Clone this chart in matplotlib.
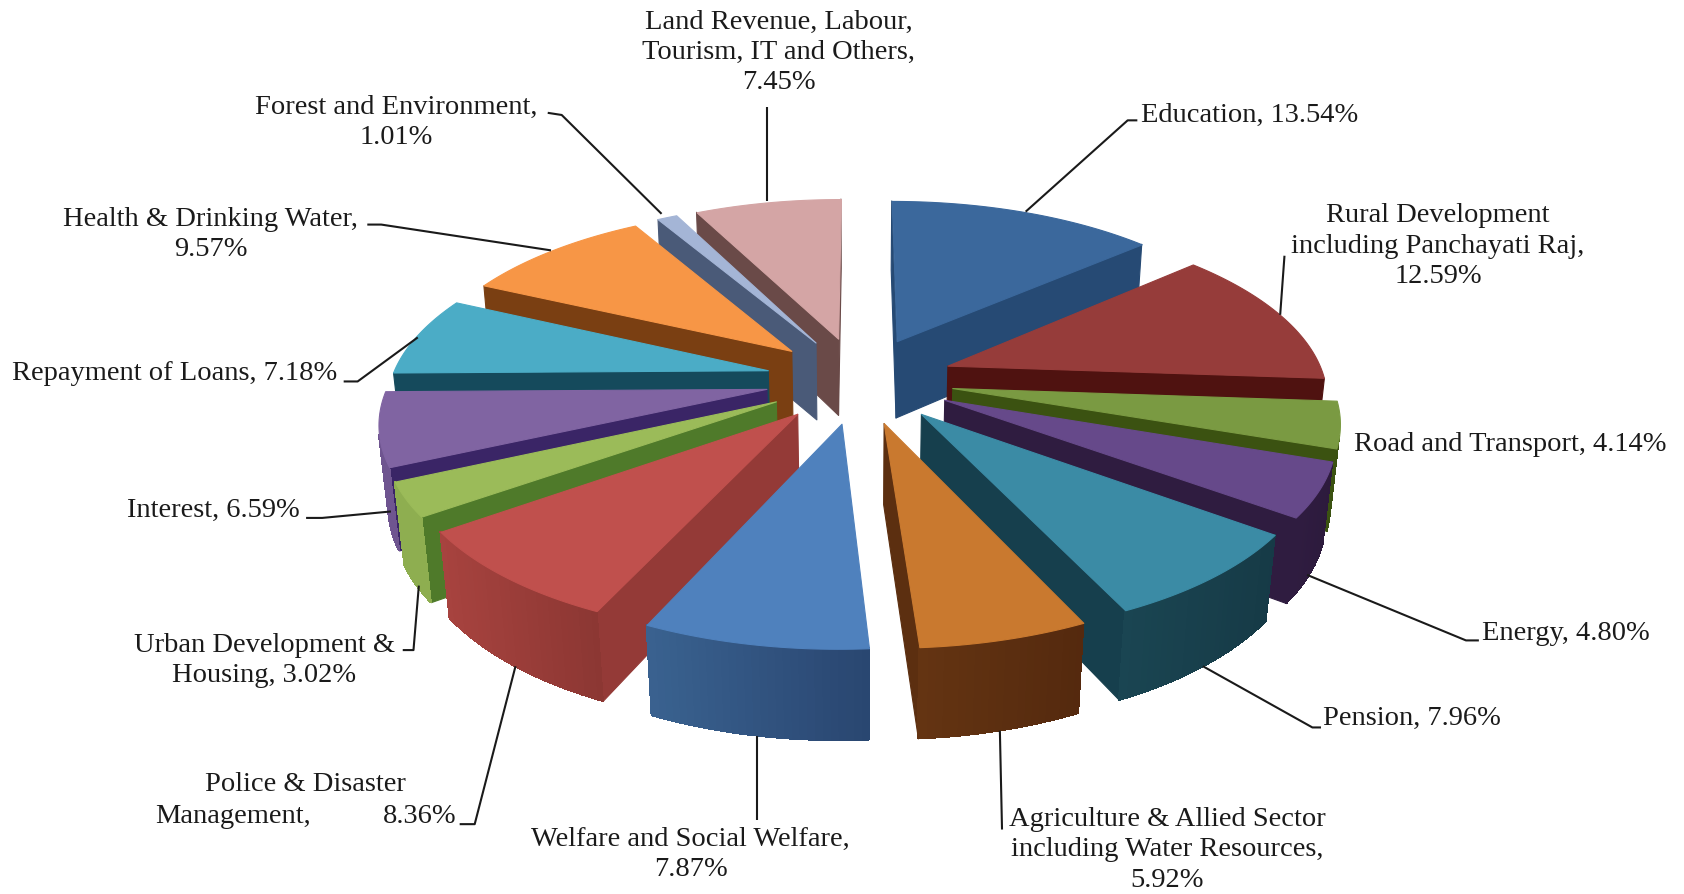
import numpy as np
import matplotlib
matplotlib.use("Agg")
import matplotlib.pyplot as plt
from matplotlib.collections import PolyCollection

plt.rcParams['font.family'] = ['Liberation Serif', 'DejaVu Serif']

# --- Budget shares (percent), clockwise from 12 o'clock ---
sectors = [
    "Education", "Rural Development", "Road and Transport", "Energy", "Pension",
    "Agriculture", "Welfare", "Police", "Urban", "Interest",
    "Repayment", "Health", "Forest", "Land Revenue",
]
shares = [13.54, 12.59, 4.14, 4.80, 7.96, 5.92, 7.87, 8.36, 3.02, 6.59, 7.18, 9.57, 1.01, 7.45]

# Colours: top face, radial wall, outer wall (near left end, near right end)
top_colors = ['#3b689c', '#963c3a', '#7a9a42', '#66498a', '#3b8ba5', '#c9792f', '#4f81bd',
              '#c0504d', '#9bbb59', '#8064a2', '#4bacc6', '#f79646', '#a4b5d6', '#d4a5a5']
side_colors = ['#264a74', '#4f1210', '#3b5211', '#2f1c40', '#163f4d', '#5c2f10', '#2d4d78',
               '#943a37', '#4f7a2a', '#3a2566', '#154a5c', '#7a3f12', '#4a5a78', '#6a4a48']
rim_left = ['#264a74', '#4f1210', '#3b5211', '#2f1c40', '#1a4552', '#643412', '#3a6290',
            '#a8433f', '#8eae50', '#6f5590', '#154a5c', '#7a3f12', '#4a5a78', '#6a4a48']
rim_right = ['#264a74', '#4f1210', '#3b5211', '#2c1a3c', '#163a46', '#54290e', '#294670',
             '#8c3733', '#8eae50', '#6f5590', '#154a5c', '#7a3f12', '#4a5a78', '#6a4a48']

# Labels: text, centre x, centre y
label_text = [
    "Education, 13.54%", "Rural Development\nincluding Panchayati Raj,\n12.59%",
    "Road and Transport, 4.14%", "Energy, 4.80%", "Pension, 7.96%",
    "Agriculture & Allied Sector\nincluding Water Resources,\n5.92%",
    "Welfare and Social Welfare,\n7.87%", "Police & Disaster", "Management,", "8.36%",
    "Urban Development &\nHousing, 3.02%", "Interest, 6.59%", "Repayment of Loans, 7.18%",
    "Health & Drinking Water,\n9.57%", "Forest and Environment,\n1.01%",
    "Land Revenue, Labour,\nTourism, IT and Others,\n7.45%",
]
label_x = [1164, 1339, 1406, 1458, 1315, 1087, 643, 284, 217, 391, 246, 199, 163, 196, 369, 725]
label_y = [107, 229, 414, 590, 669, 791, 795, 730, 760, 760, 615, 475, 348, 218, 114, 49]

# Leader lines as (x, y) runs
leaders = [
    [(955, 197), (1050, 112), (1059, 112)],
    [(1192, 293), (1196, 238)],
    [(1217, 535), (1365, 596), (1377, 596)],
    [(1120, 620), (1222, 677), (1230, 677)],
    [(931, 680), (933, 772)],
    [(705, 685), (705, 763)],
    [(480, 620), (442, 767), (428, 767)],
    [(390, 545), (385, 605), (375, 605)],
    [(364, 476), (300, 482), (285, 482)],
    [(389, 314), (333, 355), (320, 355)],
    [(513, 233), (355, 209), (342, 209)],
    [(616, 199), (523, 107), (510, 105)],
    [(714, 187), (714, 100)],
]

# --- Camera and pie geometry ---
CX, CY = 800, 353
DIST = 5.6
FOCAL = 351 * DIST
ELEV = np.radians(27.4)
HEIGHT = 0.24
EXPLODE = 0.25


def project(x, y, z):
    """Perspective projection of pie-space points to drawing coordinates."""
    depth = DIST + y * np.cos(ELEV) - z * np.sin(ELEV)
    up = y * np.sin(ELEV) + z * np.cos(ELEV)
    return CX + FOCAL * x / depth, CY - FOCAL * up / depth


def signed_area(pts):
    x, y = pts[:, 0], pts[:, 1]
    return 0.5 * np.sum(x * np.roll(y, -1) - np.roll(x, -1) * y)


def face(xs, ys, zs):
    return np.column_stack(project(np.asarray(xs), np.asarray(ys), np.asarray(zs)))


def blend(c1, c2, t):
    a = np.array(matplotlib.colors.to_rgb(c1))
    b = np.array(matplotlib.colors.to_rgb(c2))
    return tuple(a + (b - a) * t)


fig = plt.figure(figsize=(16.84, 8.94), dpi=100)
ax = fig.add_axes([0, 0, 1, 1])
ax.set_xlim(0, 1568)
ax.set_ylim(832, 0)
ax.axis('off')

edges = np.radians(np.concatenate([[0], np.cumsum(shares)]) * 3.6)
mids = (edges[:-1] + edges[1:]) / 2

# Far wedges first so nearer ones cover them
for i in np.argsort(-np.cos(mids)):
    a0, a1, mid = edges[i], edges[i + 1], mids[i]
    ox, oy = EXPLODE * np.sin(mid), EXPLODE * np.cos(mid)
    arc = np.linspace(a0, a1, max(4, int(np.degrees(a1 - a0)) + 2))
    rx, ry = ox + np.sin(arc), oy + np.cos(arc)
    rim_xs = face(rx, ry, 0 * rx)[:, 0]

    # Radial walls, kept only where they face the viewer
    polys, colors = [], []
    for ex, ey, sign in [(rx[0], ry[0], 1), (rx[-1], ry[-1], -1)]:
        wall = face([ox, ex, ex, ox], [oy, ey, ey, oy], [0, 0, -HEIGHT, -HEIGHT])
        if signed_area(wall) * sign < 0:
            polys.append(wall)
            colors.append(side_colors[i])
    ax.add_collection(PolyCollection(polys, facecolors=colors, edgecolors=colors, linewidths=0.8))

    # Outer wall as thin facets for the shading ramp, no antialiasing so no seams show
    polys, colors = [], []
    for k in range(len(arc) - 1):
        wall = face([rx[k], rx[k + 1], rx[k + 1], rx[k]], [ry[k], ry[k + 1], ry[k + 1], ry[k]],
                    [0, 0, -HEIGHT, -HEIGHT])
        if signed_area(wall) < 0:
            polys.append(wall)
            # ramp runs left to right on screen
            t = np.clip((np.mean(wall[:, 0]) - rim_xs.min()) / (np.ptp(rim_xs) + 1e-6), 0, 1)
            colors.append(blend(rim_left[i], rim_right[i], t))
    if polys:
        ax.add_collection(PolyCollection(polys, facecolors=colors, edgecolors=colors,
                                         linewidths=0.8, antialiaseds=False))

    top = face(np.r_[ox, rx], np.r_[oy, ry], np.zeros(len(rx) + 1))
    ax.add_collection(PolyCollection([top], facecolors=top_colors[i], edgecolors=top_colors[i],
                                     linewidths=0.8))

for run in leaders:
    xs, ys = zip(*run)
    ax.plot(xs, ys, color='#1a1a1a', lw=1.5, solid_capstyle='butt')

for text, x, y in zip(label_text, label_x, label_y):
    ax.text(x, y, text, ha='center', va='center', fontsize=20.5, color='#1a1a1a', linespacing=1.28)

fig.savefig('out.png', dpi=100, facecolor='white')
